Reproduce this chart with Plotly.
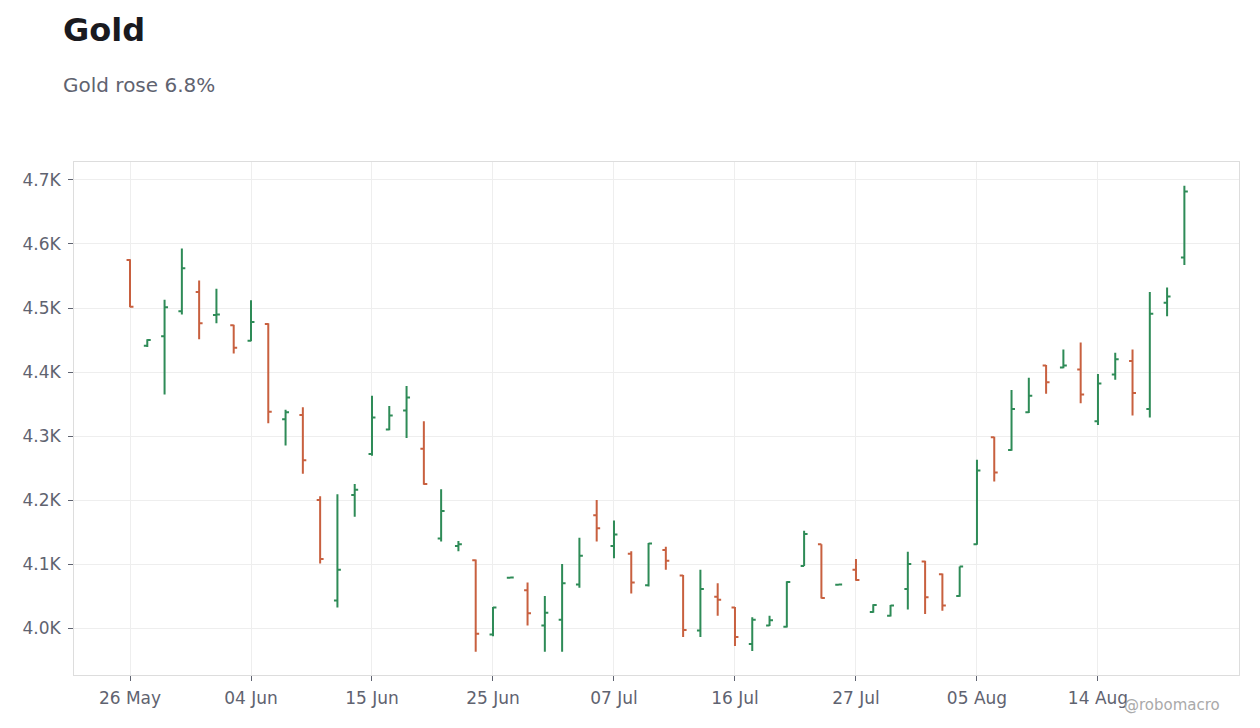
import plotly.graph_objects as go

# daily gold prices (trading days only)
dates = [
    "2026-05-26", "2026-05-27", "2026-05-28", "2026-05-29",
    "2026-06-01", "2026-06-02", "2026-06-03", "2026-06-04", "2026-06-05",
    "2026-06-08", "2026-06-09", "2026-06-10", "2026-06-11", "2026-06-12",
    "2026-06-15", "2026-06-16", "2026-06-17", "2026-06-18",
    "2026-06-22", "2026-06-23", "2026-06-24", "2026-06-25", "2026-06-26",
    "2026-06-29", "2026-06-30", "2026-07-01", "2026-07-02",
    "2026-07-06", "2026-07-07", "2026-07-08", "2026-07-09", "2026-07-10",
    "2026-07-13", "2026-07-14", "2026-07-15", "2026-07-16", "2026-07-17",
    "2026-07-20", "2026-07-21", "2026-07-22", "2026-07-23", "2026-07-24",
    "2026-07-27", "2026-07-28", "2026-07-29", "2026-07-30", "2026-07-31",
    "2026-08-03", "2026-08-04", "2026-08-05", "2026-08-06", "2026-08-07",
    "2026-08-10", "2026-08-11", "2026-08-12", "2026-08-13", "2026-08-14",
    "2026-08-17", "2026-08-18", "2026-08-19", "2026-08-20", "2026-08-21",
]
opens = [
    4575, 4441, 4456, 4495,
    4525, 4489, 4473, 4449, 4475,
    4326, 4333, 4200, 4043, 4208,
    4272, 4310, 4340, 4280,
    4140, 4128, 4106, 3990, 4078.5,
    4059, 4004, 4013, 4068,
    4176, 4128, 4116, 4067, 4122,
    4082, 3996, 4049, 4032, 3975,
    4004, 4002, 4097, 4131, 4067.5,
    4091, 4025, 4019, 4061, 4104,
    4084, 4050, 4131, 4298, 4278,
    4337, 4410, 4407, 4404, 4323,
    4396, 4417, 4342, 4508, 4579,
]
highs = [
    4576, 4451, 4513, 4593,
    4543, 4530, 4474, 4512, 4476,
    4341, 4345, 4206, 4209, 4225,
    4363, 4347, 4378, 4323,
    4217, 4136, 4107, 4033, 4079,
    4071, 4050, 4100, 4141,
    4200, 4168, 4120, 4133, 4127,
    4083, 4091, 4070, 4033, 4017,
    4019, 4073, 4152, 4131, 4068,
    4108, 4037, 4036, 4119, 4105,
    4085, 4096, 4263, 4299, 4372,
    4391, 4411, 4435, 4446, 4397,
    4430, 4435, 4525, 4532, 4691,
]
lows = [
    4501, 4439, 4365, 4490,
    4451, 4476, 4429, 4448, 4320,
    4285, 4241, 4101, 4032, 4174,
    4269, 4309, 4297, 4224,
    4135, 4120, 3963, 3987, 4078.5,
    4004, 3963, 3963, 4063,
    4135, 4109, 4054, 4065, 4091,
    3986, 3986, 4019, 3972, 3964,
    4003, 4001, 4097, 4046, 4067.5,
    4074, 4024, 4018, 4029, 4022,
    4027, 4049, 4130, 4229, 4277,
    4336, 4366, 4406, 4351, 4317,
    4388, 4332, 4329, 4487, 4567,
]
closes = [
    4502, 4450, 4501, 4562,
    4476, 4490, 4438, 4478, 4338,
    4337, 4262, 4108, 4091, 4216,
    4329, 4332, 4360, 4225,
    4183, 4131, 3991, 4032, 4079,
    4023, 4024, 4070, 4113,
    4156, 4146, 4071, 4132, 4105,
    3997, 4061, 4044, 3986, 4013,
    4012, 4072, 4147, 4047, 4068,
    4075, 4036, 4035, 4100, 4048,
    4035, 4096, 4246, 4243, 4342,
    4363, 4384, 4410, 4365, 4382,
    4420, 4367, 4491, 4518, 4682,
]

x_tick_labels = ["26 May", "04 Jun", "15 Jun", "25 Jun", "07 Jul",
                 "16 Jul", "27 Jul", "05 Aug", "14 Aug"]
y_tick_vals = [4000, 4100, 4200, 4300, 4400, 4500, 4600, 4700]
y_tick_labels = ["4.0K", "4.1K", "4.2K", "4.3K", "4.4K", "4.5K", "4.6K", "4.7K"]

fig = go.Figure(go.Ohlc(
    x=dates, open=opens, high=highs, low=lows, close=closes,
    increasing=dict(line=dict(color="#2e8b57", width=2)),
    decreasing=dict(line=dict(color="#c8603f", width=2)),
    tickwidth=0.2,
    showlegend=False,
))

axis_font = dict(family="DejaVu Sans", size=17, color="#5f6370")

fig.update_layout(
    width=1260, height=728,
    margin=dict(l=66, r=29, t=154, b=61),
    paper_bgcolor="white", plot_bgcolor="white",
    font=dict(family="DejaVu Sans"),
    xaxis=dict(
        type="category", range=[-3.24, 64.16],
        tickvals=dates[::7], ticktext=x_tick_labels,
        ticks="outside", ticklen=5, tickcolor="#5f6370",
        tickfont=axis_font, ticklabelstandoff=3,
        showgrid=True, gridcolor="#eeeeee",
        showline=True, linecolor="#dddddd", mirror=True,
        zeroline=False, rangeslider=dict(visible=False),
    ),
    yaxis=dict(
        range=[3926.6, 4728.1],
        tickvals=y_tick_vals, ticktext=y_tick_labels,
        ticks="outside", ticklen=5, tickcolor="#5f6370",
        tickfont=axis_font, ticklabelstandoff=4,
        showgrid=True, gridcolor="#eeeeee",
        showline=True, linecolor="#dddddd", mirror=True,
        zeroline=False,
    ),
    annotations=[
        dict(text="<b>Gold</b>", xref="paper", yref="paper",
             x=-0.011, y=1.257, xanchor="left", yanchor="middle",
             showarrow=False, font=dict(size=32, color="#1a1a1f")),
        dict(text="Gold rose 6.8%", xref="paper", yref="paper",
             x=-0.011, y=1.150, xanchor="left", yanchor="middle",
             showarrow=False, font=dict(size=20, color="#5f6370")),
        dict(text="@robomacro", xref="paper", yref="paper",
             x=0.9854, y=-0.058, xanchor="right", yanchor="middle",
             showarrow=False, font=dict(size=15, color="#aaaaaa")),
    ],
)

fig.write_html("out.html")
